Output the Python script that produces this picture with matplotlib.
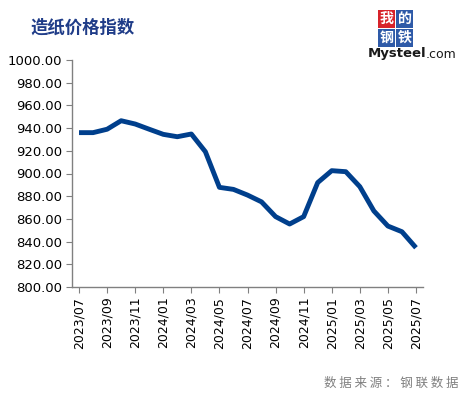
import matplotlib
matplotlib.use("Agg")
import matplotlib.pyplot as plt
from matplotlib.patches import Rectangle

plt.rcParams['font.family'] = ['Noto Sans CJK SC', 'DejaVu Sans']

months = ["2023/07", "2023/08", "2023/09", "2023/10", "2023/11", "2023/12",
          "2024/01", "2024/02", "2024/03", "2024/04", "2024/05", "2024/06",
          "2024/07", "2024/08", "2024/09", "2024/10", "2024/11", "2024/12",
          "2025/01", "2025/02", "2025/03", "2025/04", "2025/05", "2025/06",
          "2025/07"]
values = [936.0, 936.0, 939.0, 946.5, 943.6, 939.0, 934.5, 932.4, 934.8,
          919.2, 887.8, 886.0, 881.0, 875.0, 862.0, 855.5, 862.0, 892.0,
          902.5, 901.6, 888.4, 867.0, 853.7, 848.7, 834.6]
yticks = [800, 820, 840, 860, 880, 900, 920, 940, 960, 980, 1000]

W, H = 463, 397
fig = plt.figure(figsize=(W / 100, H / 100), dpi=100)
ax = fig.add_axes([72 / W, (H - 287) / H, (423 - 72) / W, (287 - 60) / H])

x = list(range(len(months)))
ax.plot(x, values, color="#003f8c", linewidth=3.5, solid_capstyle="butt",
        solid_joinstyle="round")

ax.set_xlim(-0.5, len(months) - 0.5)
ax.set_ylim(800, 1000)
ax.set_yticks(yticks)
ax.set_yticklabels([f"{v:.2f}" for v in yticks], family="DejaVu Sans",
                   fontsize=9.5)
tick_idx = list(range(0, len(months), 2))
ax.set_xticks(tick_idx)
ax.set_xticklabels([months[i] for i in tick_idx], rotation=90,
                   family="DejaVu Sans", fontsize=9)

for s in ["top", "right"]:
    ax.spines[s].set_visible(False)
for s in ["left", "bottom"]:
    ax.spines[s].set_color("#808080")
    ax.spines[s].set_linewidth(1.0)
ax.tick_params(axis="y", length=4, color="#808080", pad=3)
ax.tick_params(axis="x", length=4, color="#808080", pad=3)

# Title
fig.text(30 / W, 1 - 28 / H, "造纸价格指数", fontsize=12.5, fontweight="bold",
         color="#1f3c88", va="center", ha="left")

# Logo
boxes = [(378, 10, "我", "#d7232a"), (396, 10, "的", "#2e5aa8"),
         (378, 29, "钢", "#2e5aa8"), (396, 29, "铁", "#2e5aa8")]
for bx, by, ch, col in boxes:
    fig.patches.append(Rectangle((bx / W, 1 - (by + 18) / H), 17 / W, 18 / H,
                                 transform=fig.transFigure, facecolor=col,
                                 edgecolor="none"))
    fig.text((bx + 8.5) / W, 1 - (by + 9) / H, ch, fontsize=10, color="white",
             ha="center", va="center", fontweight="bold")
t1 = fig.text(368 / W, 1 - 54 / H, "Mysteel", fontsize=9.5, fontweight="bold",
              color="#1a1a1a", ha="left", va="center", family="DejaVu Sans")
fig.canvas.draw()
bb = t1.get_window_extent()
fig.text((bb.x1 - 1) / W, 1 - 54 / H, ".com", fontsize=9, color="#1a1a1a",
         ha="left", va="center", family="DejaVu Sans")

# Source
fig.text(459 / W, 1 - 383 / H, "数 据 来 源 ： 钢 联 数 据", fontsize=9,
         color="#7f7f7f", ha="right", va="center")

fig.savefig("out.png", dpi=100, facecolor="white")
